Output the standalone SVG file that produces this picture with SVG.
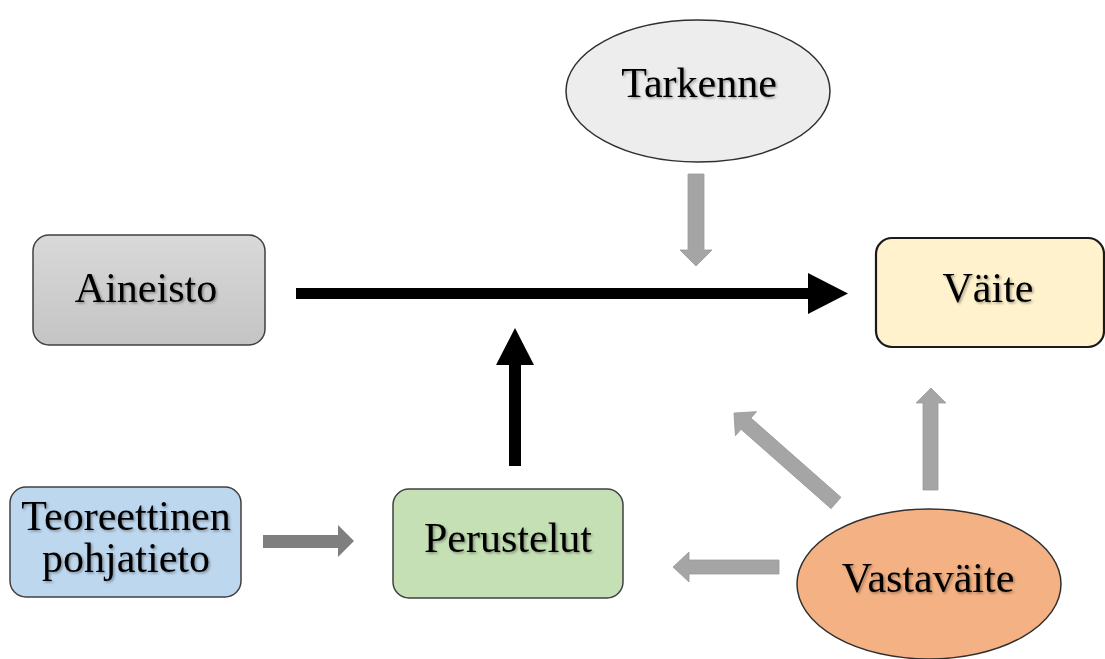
<svg xmlns="http://www.w3.org/2000/svg" width="1105" height="659" viewBox="0 0 1105 659">
  <defs>
    <linearGradient id="gGray" x1="0" y1="0" x2="0" y2="1">
      <stop offset="0" stop-color="#d9d9d9"/>
      <stop offset="1" stop-color="#c4c4c4"/>
    </linearGradient>
    <filter id="ts" x="-10%" y="-20%" width="120%" height="150%">
      <feDropShadow dx="1.5" dy="1.5" stdDeviation="1.2" flood-color="#000" flood-opacity="0.35"/>
    </filter>
  </defs>
  <style>
    .lbl { font-family: "Liberation Serif", "Times New Roman", serif; font-size: 42px; fill: #000; text-anchor: middle; filter: url(#ts); }
    .box { stroke: #404040; stroke-width: 1.5; }
    .lightArrow { fill: #a5a5a5; stroke: #9a9a9a; stroke-width: 0.8; }
    .darkArrow { fill: #7f7f7f; }
    .blackArrow { fill: #000; }
  </style>
  <rect width="1105" height="659" fill="#fff"/>

  <g id="connectors">
    <!-- Aineisto -> Väite -->
    <polygon class="blackArrow" points="296,288 808,288 808,273 848,293.5 808,314 808,299 296,299"/>
    <!-- Perustelut -> main arrow -->
    <polygon class="blackArrow" points="509,466 509,365 496,365 515,328 534,365 521,365 521,466"/>
    <!-- Tarkenne -> main arrow -->
    <polygon class="lightArrow" points="688,174 704,174 704,250 712,250 696,266 680,250 688,250"/>
    <!-- Teoreettinen -> Perustelut -->
    <polygon class="darkArrow" points="263,535 338,535 338,525 354,541 338,557 338,548 263,548"/>
    <!-- Vastaväite -> Perustelut -->
    <polygon class="lightArrow" points="779,560 689,560 689,552 673,567 689,582 689,574 779,574"/>
    <!-- Vastaväite -> Väite -->
    <polygon class="lightArrow" points="923,490 923,403 916,403 931,388 946,403 938,403 938,490"/>
    <!-- Vastaväite -> main arrow (diagonal) -->
    <g transform="translate(836,503) rotate(221.4)">
      <polygon class="lightArrow" points="0,-7.5 120,-7.5 120,-16 136,0 120,16 120,7.5 0,7.5"/>
    </g>
  </g>

  <g id="tarkenne">
    <ellipse cx="698" cy="91" rx="132" ry="71" fill="#ededed" stroke="#303030" stroke-width="1.5"/>
    <text class="lbl" x="699" y="97">Tarkenne</text>
  </g>

  <g id="aineisto">
    <rect class="box" x="33" y="235" width="232" height="110" rx="16" fill="url(#gGray)"/>
    <text class="lbl" x="146" y="302">Aineisto</text>
  </g>

  <g id="vaite">
    <rect x="876" y="238" width="228" height="109" rx="16" fill="#fff2cc" stroke="#1a1a1a" stroke-width="2.2"/>
    <text class="lbl" x="988" y="302">Väite</text>
  </g>

  <g id="teoreettinen">
    <rect class="box" x="10" y="487" width="231" height="110" rx="16" fill="#bdd7ee"/>
    <text class="lbl" x="126" y="530">Teoreettinen</text>
    <text class="lbl" x="126" y="572">pohjatieto</text>
  </g>

  <g id="perustelut">
    <rect class="box" x="393" y="489" width="230" height="109" rx="16" fill="#c5e0b4"/>
    <text class="lbl" x="508" y="552">Perustelut</text>
  </g>

  <g id="vastavaite">
    <ellipse cx="929" cy="584" rx="132" ry="75" fill="#f4b183" stroke="#303030" stroke-width="1.5"/>
    <text class="lbl" x="928" y="592">Vastaväite</text>
  </g>
</svg>
